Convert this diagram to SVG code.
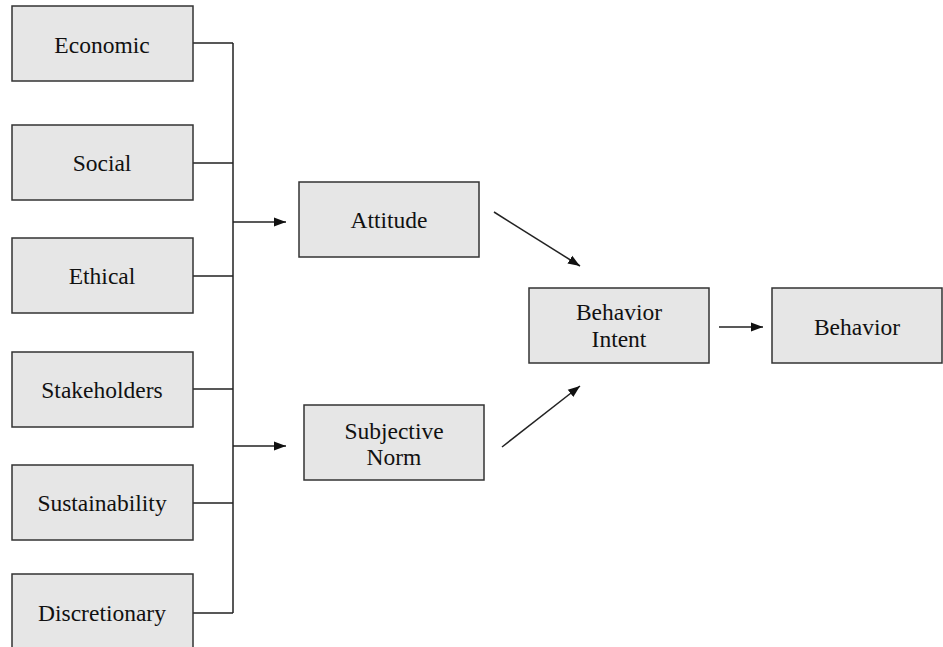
<svg xmlns="http://www.w3.org/2000/svg" width="943" height="647" viewBox="0 0 943 647">
<style>
.box{fill:#e6e6e6;stroke:#333;stroke-width:1.5}
.t{font-family:"Liberation Serif","Times New Roman",serif;font-size:23.5px;fill:#111;text-anchor:middle}
.c{stroke:#222;stroke-width:1.5;fill:none}
</style>
<defs>
<marker id="ah" viewBox="0 0 12 10" refX="12" refY="5" markerWidth="12" markerHeight="10" markerUnits="userSpaceOnUse" orient="auto">
<path d="M0,0.5 L12,5 L0,9.5 Z" fill="#111"/>
</marker>
</defs>
<rect width="943" height="647" fill="#fff"/>
<g id="connectors">
<path class="c" d="M193,43 H233 M193,163 H233 M193,276 H233 M193,389 H233 M193,503 H233 M193,613 H233 M233,43 V613"/>
<line class="c" x1="233" y1="222" x2="286" y2="222" marker-end="url(#ah)"/>
<line class="c" x1="233" y1="446" x2="286" y2="446" marker-end="url(#ah)"/>
<line class="c" x1="494" y1="212" x2="580" y2="266" marker-end="url(#ah)"/>
<line class="c" x1="502" y1="447" x2="580" y2="386" marker-end="url(#ah)"/>
<line class="c" x1="719" y1="327" x2="763" y2="327" marker-end="url(#ah)"/>
</g>
<g id="economic"><rect class="box" x="12" y="6" width="181" height="75"/><text class="t" x="102" y="53">Economic</text></g>
<g id="social"><rect class="box" x="12" y="125" width="181" height="75"/><text class="t" x="102" y="171">Social</text></g>
<g id="ethical"><rect class="box" x="12" y="238" width="181" height="75"/><text class="t" x="102" y="284">Ethical</text></g>
<g id="stakeholders"><rect class="box" x="12" y="352" width="181" height="75"/><text class="t" x="102" y="398">Stakeholders</text></g>
<g id="sustainability"><rect class="box" x="12" y="465" width="181" height="75"/><text class="t" x="102" y="511">Sustainability</text></g>
<g id="discretionary"><rect class="box" x="12" y="574" width="181" height="76"/><text class="t" x="102" y="621">Discretionary</text></g>
<g id="attitude"><rect class="box" x="299" y="182" width="180" height="75"/><text class="t" x="389" y="228">Attitude</text></g>
<g id="subjective-norm"><rect class="box" x="304" y="405" width="180" height="75"/><text class="t" x="394" y="439">Subjective</text><text class="t" x="394" y="465">Norm</text></g>
<g id="behavior-intent"><rect class="box" x="529" y="288" width="180" height="75"/><text class="t" x="619" y="320">Behavior</text><text class="t" x="619" y="347">Intent</text></g>
<g id="behavior"><rect class="box" x="772" y="288" width="170" height="75"/><text class="t" x="857" y="335">Behavior</text></g>
</svg>
